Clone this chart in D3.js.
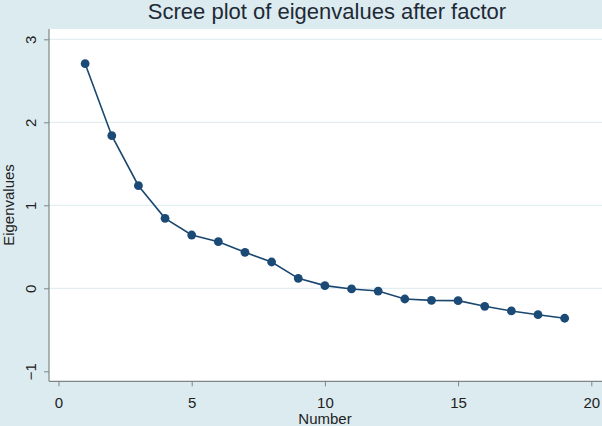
<!DOCTYPE html>
<html>
<head>
<meta charset="utf-8">
<script src="https://cdn.jsdelivr.net/npm/d3@7"></script>
<style>
  html, body { margin: 0; padding: 0; background: #dcebf0; }
  svg { display: block; }
  text { font-family: "Liberation Sans", Arial, sans-serif; fill: #222; }
</style>
</head>
<body>
<svg id="chart" width="602" height="426"></svg>
<script>
// Data
const numbers = [1, 2, 3, 4, 5, 6, 7, 8, 9, 10, 11, 12, 13, 14, 15, 16, 17, 18, 19];
const eigenvalues = [2.706, 1.839, 1.236, 0.843, 0.642, 0.562, 0.434, 0.317, 0.120,
                     0.032, -0.008, -0.033, -0.129, -0.145, -0.149, -0.217, -0.273, -0.318, -0.361];
const xTicks = [0, 5, 10, 15, 20];
const yTicks = [-1, 0, 1, 2, 3];
const gridTicks = [0, 1, 2, 3];

const W = 602, H = 426;
const plot = { left: 49, top: 29, right: 602, bottom: 381.3 };

const svg = d3.select("#chart");

svg.append("rect").attr("x", 0).attr("y", 0).attr("width", W).attr("height", H)
  .attr("fill", "#dcebf0");
svg.append("rect")
  .attr("x", plot.left).attr("y", plot.top)
  .attr("width", plot.right - plot.left).attr("height", plot.bottom - plot.top)
  .attr("fill", "#ffffff");

const x = d3.scaleLinear().domain([0, 20]).range([58.5, 591.3]);
const y = d3.scaleLinear().domain([-1, 3]).range([371.3, 39.3]);

// gridlines
svg.append("g").selectAll("line").data(gridTicks).join("line")
  .attr("x1", plot.left).attr("x2", plot.right)
  .attr("y1", d => y(d)).attr("y2", d => y(d))
  .attr("stroke", "#e3eef1").attr("stroke-width", 1.2);

// x axis
const gx = svg.append("g").attr("transform", `translate(0,${plot.bottom})`)
  .call(d3.axisBottom(x).tickValues(xTicks).tickFormat(d3.format("d")).tickSize(5).tickSizeOuter(0));
gx.select(".domain").attr("d", `M${plot.left},0H${plot.right}`).attr("stroke", "#7d8587").attr("stroke-width", 1.2);
gx.selectAll(".tick line").attr("stroke", "#7d8587");
gx.selectAll(".tick text").attr("y", 16).attr("dy", "0.71em")
  .style("font-size", "15px").style("fill", "#222");

// y axis
const gy = svg.append("g").attr("transform", `translate(${plot.left},0)`)
  .call(d3.axisLeft(y).tickValues(yTicks).tickFormat(d3.format("d")).tickSize(5).tickSizeOuter(0));
gy.select(".domain").attr("d", `M0,${plot.top}V${plot.bottom}`).attr("stroke", "#7d8587").attr("stroke-width", 1.2);
gy.selectAll(".tick line").attr("stroke", "#7d8587");
gy.selectAll(".tick text")
  .attr("x", null).attr("dy", null)
  .attr("transform", "translate(-13,0) rotate(-90)")
  .attr("text-anchor", "middle")
  .style("font-size", "15px").style("fill", "#222");

// line
const line = d3.line().x((d, i) => x(numbers[i])).y(d => y(d));
svg.append("path").datum(eigenvalues)
  .attr("d", line).attr("fill", "none")
  .attr("stroke", "#1a476f").attr("stroke-width", 1.6);

// markers
svg.append("g").selectAll("circle").data(eigenvalues).join("circle")
  .attr("cx", (d, i) => x(numbers[i])).attr("cy", d => y(d))
  .attr("r", 4.4).attr("fill", "#1a4a75");

// title
svg.append("text").attr("x", 327).attr("y", 18.5)
  .attr("text-anchor", "middle").style("font-size", "22px").style("fill", "#1e2a36")
  .text("Scree plot of eigenvalues after factor");

// axis titles
svg.append("text").attr("x", 325).attr("y", 424)
  .attr("text-anchor", "middle").style("font-size", "15px")
  .text("Number");
svg.append("text")
  .attr("transform", "translate(13.5,205) rotate(-90)")
  .attr("text-anchor", "middle").style("font-size", "15px")
  .text("Eigenvalues");
</script>
</body>
</html>
